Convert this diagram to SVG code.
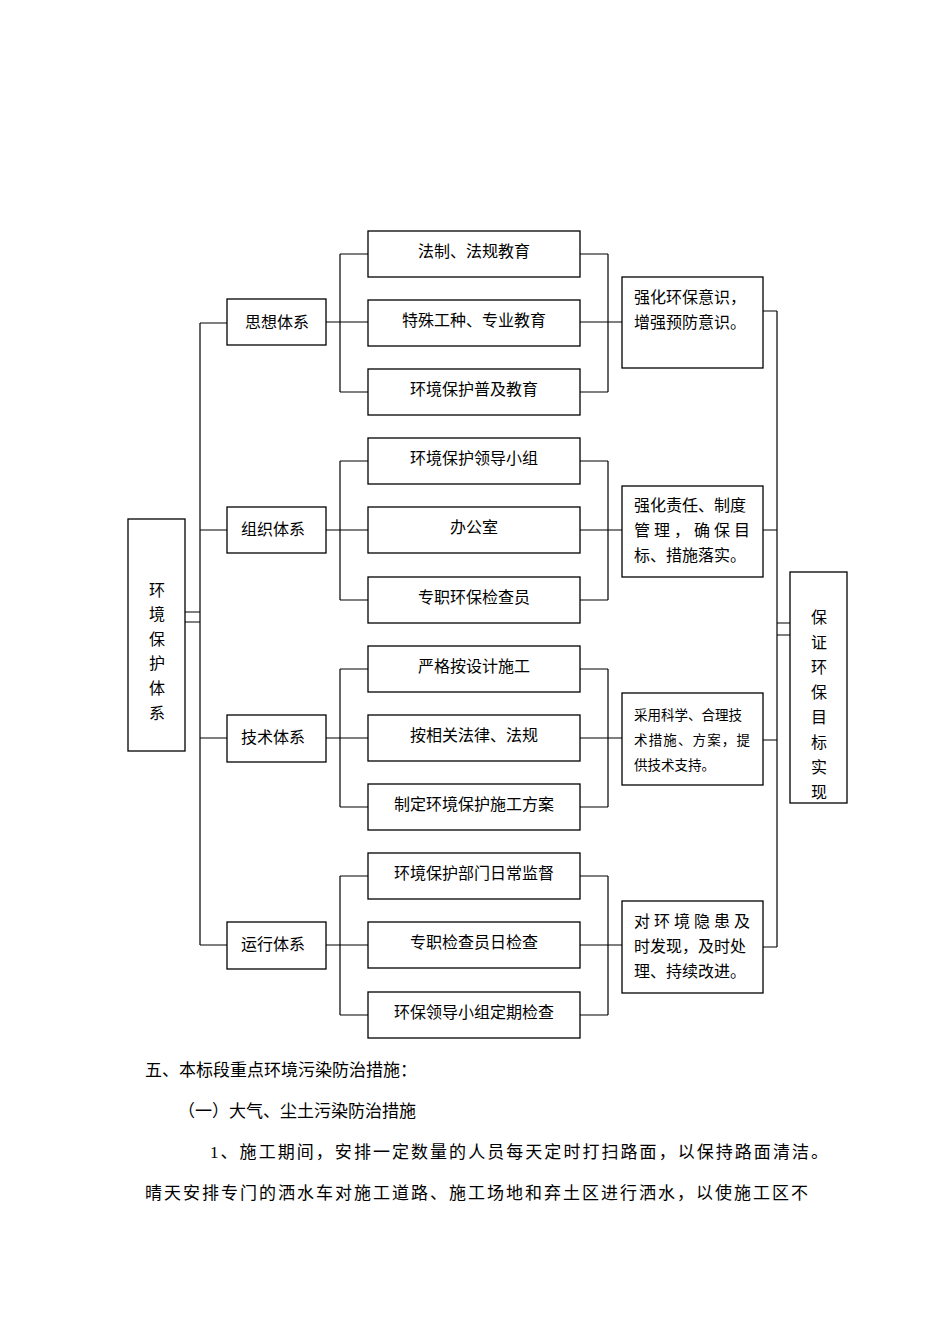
<svg xmlns="http://www.w3.org/2000/svg" width="950" height="1344" viewBox="0 0 950 1344">
<style>
.b{fill:#fff;stroke:#000;stroke-width:1.3}
.c{fill:none;stroke:#000;stroke-width:1.2}
text{font-family:"Liberation Serif","Noto Sans CJK SC",serif;font-size:16px;fill:#000}
.m{text-anchor:middle}
.p{font-size:17px}
</style>
<rect width="950" height="1344" fill="#fff"/>
<g id="connectors" class="c">
<path d="M185 612H200M185 622H200M200 323V945M200 323H227M200 530H227M200 738H227M200 945H227"/>
<path d="M326 322H368M340 254V392M340 254H368M340 392H368"/>
<path d="M326 530H368M340 461V600M340 461H368M340 600H368"/>
<path d="M326 738H368M340 669V807M340 669H368M340 807H368"/>
<path d="M326 945H368M340 876V1015M340 876H368M340 1015H368"/>
<path d="M580 254H608M580 392H608M608 254V392M580 322H622"/>
<path d="M580 461H608M580 600H608M608 461V600M580 530H622"/>
<path d="M580 669H608M580 807H608M608 669V807M580 738H622"/>
<path d="M580 876H608M580 1015H608M608 876V1015M580 945H622"/>
<path d="M763 311H777M763 530H777M763 740H777M763 947H777M777 311V947M777 623H790M777 635H790"/>
</g>
<g id="root"><rect class="b" x="128" y="519" width="57" height="232"/>
<text class="m" x="157" y="596">环</text><text class="m" x="157" y="620">境</text><text class="m" x="157" y="645">保</text><text class="m" x="157" y="669">护</text><text class="m" x="157" y="694">体</text><text class="m" x="157" y="719">系</text></g>
<g id="n1"><rect class="b" x="227" y="299" width="99" height="46"/><text class="m" x="277" y="328">思想体系</text></g>
<g id="n2"><rect class="b" x="227" y="507" width="99" height="46"/><text class="m" x="273" y="535">组织体系</text></g>
<g id="n3"><rect class="b" x="227" y="715" width="99" height="47"/><text class="m" x="273" y="743">技术体系</text></g>
<g id="n4"><rect class="b" x="227" y="922" width="99" height="47"/><text class="m" x="273" y="950">运行体系</text></g>
<g id="c1"><rect class="b" x="368" y="231" width="212" height="46"/><text class="m" x="474" y="257">法制、法规教育</text></g>
<g id="c2"><rect class="b" x="368" y="300" width="212" height="46"/><text class="m" x="474" y="326">特殊工种、专业教育</text></g>
<g id="c3"><rect class="b" x="368" y="369" width="212" height="46"/><text class="m" x="474" y="395">环境保护普及教育</text></g>
<g id="c4"><rect class="b" x="368" y="438" width="212" height="46"/><text class="m" x="474" y="464">环境保护领导小组</text></g>
<g id="c5"><rect class="b" x="368" y="507" width="212" height="46"/><text class="m" x="474" y="533">办公室</text></g>
<g id="c6"><rect class="b" x="368" y="577" width="212" height="46"/><text class="m" x="474" y="603">专职环保检查员</text></g>
<g id="c7"><rect class="b" x="368" y="646" width="212" height="46"/><text class="m" x="474" y="672">严格按设计施工</text></g>
<g id="c8"><rect class="b" x="368" y="715" width="212" height="46"/><text class="m" x="474" y="741">按相关法律、法规</text></g>
<g id="c9"><rect class="b" x="368" y="784" width="212" height="46"/><text class="m" x="474" y="810">制定环境保护施工方案</text></g>
<g id="c10"><rect class="b" x="368" y="853" width="212" height="46"/><text class="m" x="474" y="879">环境保护部门日常监督</text></g>
<g id="c11"><rect class="b" x="368" y="922" width="212" height="46"/><text class="m" x="474" y="948">专职检查员日检查</text></g>
<g id="c12"><rect class="b" x="368" y="992" width="212" height="46"/><text class="m" x="474" y="1018">环保领导小组定期检查</text></g>
<g id="r1"><rect class="b" x="622" y="277" width="141" height="91"/><text x="634" y="303">强化环保意识，</text><text x="634" y="328">增强预防意识。</text></g>
<g id="r2"><rect class="b" x="622" y="486" width="141" height="91"/><text x="634" y="511">强化责任、制度</text><text x="634" y="536" textLength="116" lengthAdjust="spacing">管理，确保目</text><text x="634" y="561">标、措施落实。</text></g>
<g id="r3"><rect class="b" x="622" y="693" width="141" height="92"/><text x="634" y="720" style="font-size:13.5px">采用科学、合理技</text><text x="634" y="745" style="font-size:13.5px" textLength="116" lengthAdjust="spacing">术措施、方案，提</text><text x="634" y="770" style="font-size:13.5px">供技术支持。</text></g>
<g id="r4"><rect class="b" x="622" y="901" width="141" height="92"/><text x="634" y="927" textLength="116" lengthAdjust="spacing">对环境隐患及</text><text x="634" y="952">时发现，及时处</text><text x="634" y="977">理、持续改进。</text></g>
<g id="goal"><rect class="b" x="790" y="572" width="57" height="231"/>
<text class="m" x="819" y="623">保</text><text class="m" x="819" y="648">证</text><text class="m" x="819" y="673">环</text><text class="m" x="819" y="698">保</text><text class="m" x="819" y="723">目</text><text class="m" x="819" y="748">标</text><text class="m" x="819" y="773">实</text><text class="m" x="819" y="798">现</text></g>
<text class="p" x="145" y="1076">五、本标段重点环境污染防治措施：</text>
<text class="p" x="178" y="1117">（一）大气、尘土污染防治措施</text>
<text class="p" x="210" y="1158" textLength="618" lengthAdjust="spacing">1、施工期间，安排一定数量的人员每天定时打扫路面，以保持路面清洁。</text>
<text class="p" x="145" y="1199" textLength="663" lengthAdjust="spacing">晴天安排专门的洒水车对施工道路、施工场地和弃土区进行洒水，以使施工区不</text>
</svg>
